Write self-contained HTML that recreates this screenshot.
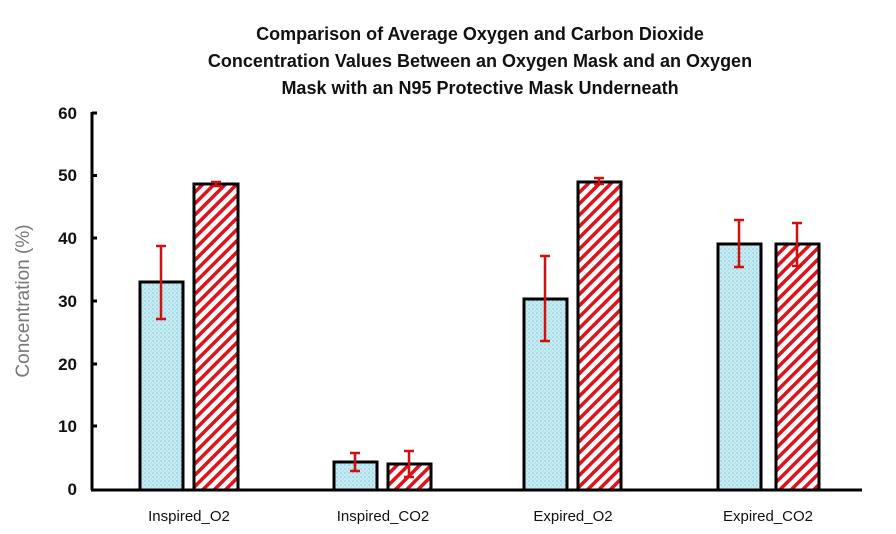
<!DOCTYPE html>
<html><head><meta charset="utf-8"><style>
html,body{margin:0;padding:0;background:#fff;}
svg{display:block;}
text{font-family:"Liberation Sans",sans-serif;}
</style></head><body>
<svg width="896" height="534" viewBox="0 0 896 534" xmlns="http://www.w3.org/2000/svg">
<defs>
<pattern id="dots" width="4" height="4" patternUnits="userSpaceOnUse">
<rect width="4" height="4" fill="#c8ecf4"/>
<circle cx="1" cy="1" r="0.8" fill="#7fc3d6"/>
<circle cx="3" cy="3" r="0.8" fill="#a5d9e6"/>
</pattern>
<pattern id="hatch" width="8" height="8" patternUnits="userSpaceOnUse" patternTransform="rotate(45)">
<rect width="8" height="8" fill="#fff"/>
<rect x="0" y="0" width="3.5" height="8" fill="#e0121a"/>
</pattern>
</defs>
<g font-weight="bold" font-size="18" fill="#111" text-anchor="middle">
<text x="480" y="40">Comparison of Average Oxygen and Carbon Dioxide</text>
<text x="480" y="67">Concentration Values Between an Oxygen Mask and an Oxygen</text>
<text x="480" y="94">Mask with an N95 Protective Mask Underneath</text>
</g>
<text transform="translate(29,301) rotate(-90)" font-size="19" fill="#777" text-anchor="middle">Concentration (%)</text>
<g font-size="17" font-weight="bold" fill="#111" text-anchor="end">
<text x="77" y="119">60</text><text x="77" y="181">50</text><text x="77" y="244">40</text>
<text x="77" y="307">30</text><text x="77" y="370">20</text><text x="77" y="432">10</text><text x="77" y="495">0</text>
</g>
<g stroke="#000" stroke-width="3">
<line x1="92" y1="112" x2="92" y2="490"/>
<line x1="91" y1="490" x2="862" y2="490"/>
<line x1="92" y1="113" x2="97" y2="113"/><line x1="92" y1="175.5" x2="97" y2="175.5"/>
<line x1="92" y1="238" x2="97" y2="238"/><line x1="92" y1="301" x2="97" y2="301"/>
<line x1="92" y1="364" x2="97" y2="364"/><line x1="92" y1="426" x2="97" y2="426"/>
</g>
<g stroke="#000" stroke-width="3">
<rect x="140" y="282" width="43" height="208" fill="url(#dots)"/>
<rect x="194" y="184" width="44" height="306" fill="url(#hatch)"/>
<rect x="334" y="462" width="43" height="28" fill="url(#dots)"/>
<rect x="388" y="464" width="43" height="26" fill="url(#hatch)"/>
<rect x="524" y="299" width="43" height="191" fill="url(#dots)"/>
<rect x="578" y="182" width="43" height="308" fill="url(#hatch)"/>
<rect x="718" y="244" width="43" height="246" fill="url(#dots)"/>
<rect x="776" y="244" width="43" height="246" fill="url(#hatch)"/>
</g>
<g stroke="#d01010" stroke-width="2.5" fill="none">
<path d="M161 246V319M156 246H166M156 319H166"/>
<path d="M216 182V186M211 182H221M211 186H221"/>
<path d="M355 453V471M350 453H360M350 471H360"/>
<path d="M409 451V477M404 451H414M404 477H414"/>
<path d="M545 256V341M540 256H550M540 341H550"/>
<path d="M599 178V184M594 178H604M594 184H604"/>
<path d="M739 220V267M734 220H744M734 267H744"/>
<path d="M797 223V266M792 223H802M792 266H802"/>
</g>
<g font-size="15" fill="#111" text-anchor="middle">
<text x="189" y="521">Inspired_O2</text>
<text x="383" y="521">Inspired_CO2</text>
<text x="573" y="521">Expired_O2</text>
<text x="768" y="521">Expired_CO2</text>
</g>
</svg>
</body></html>
